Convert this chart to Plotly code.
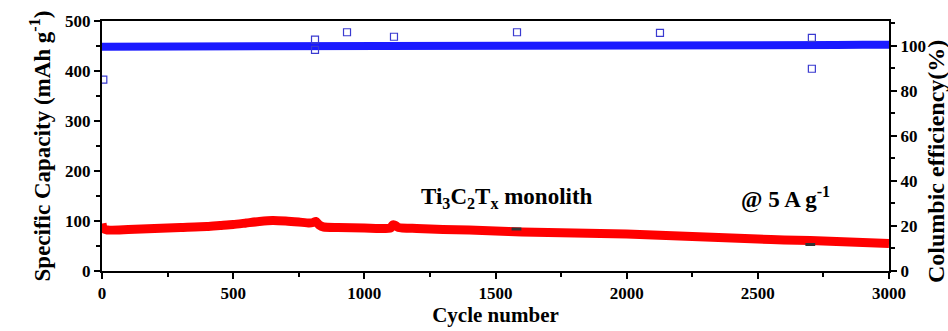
import plotly.graph_objects as go

# Specific capacity (mAh g-1) vs cycle number
cap_cycles = [0, 5, 20, 100, 200, 300, 400, 450, 500, 550, 600, 650, 700, 750, 790, 805, 815,
              828, 845, 900, 1000, 1100, 1108, 1115, 1130, 1200, 1300, 1400, 1500, 1600, 1700,
              1800, 1900, 2000, 2100, 2200, 2300, 2400, 2500, 2600, 2700, 2800, 2900, 3000]
capacity = [95, 85, 82, 83, 85, 87, 89, 91, 93, 96, 99, 101, 100, 98, 96, 97, 99,
            92, 88, 87, 86, 86, 92, 92, 87, 85, 83, 82, 80, 78, 77,
            76, 75, 74, 72, 70, 68, 66, 64, 62, 61, 59, 57, 55]

# Occasional off-trend capacity readings
cap_odd_cycles = [1580, 2700]
cap_odd = [84, 53]

# Coulombic efficiency (%) vs cycle number
ce_cycles = [0, 100, 200, 300, 400, 500, 600, 700, 800, 900, 1000, 1100, 1200, 1300, 1400,
             1500, 1600, 1700, 1800, 1900, 2000, 2100, 2200, 2300, 2400, 2500, 2600, 2700,
             2800, 2900, 3000]
ce = [99.6, 99.6, 99.7, 99.6, 99.7, 99.5, 99.6, 99.8, 99.9, 100.0, 100.0, 100.1, 100.0, 100.1,
      100.1, 100.1, 100.2, 100.2, 100.2, 100.1, 100.2, 100.2, 100.1, 100.2, 100.2, 100.2,
      100.3, 100.3, 100.3, 100.4, 100.4]

# Scattered efficiency outliers
ce_odd_cycles = [5, 812, 812, 934, 1113, 1582, 2127, 2706, 2706]
ce_odd = [85, 102.7, 98.2, 106, 104, 106, 105.7, 89.8, 103.5]

FONT = "Liberation Serif"

fig = go.Figure()

fig.add_trace(go.Scatter(
    x=ce_cycles, y=ce, yaxis="y2", mode="lines",
    line=dict(color="#1a1aff", width=8), showlegend=False))
fig.add_trace(go.Scatter(
    x=ce_odd_cycles, y=ce_odd, yaxis="y2", mode="markers",
    marker=dict(symbol="square-open", size=7, color="#3a3ad0", line=dict(width=1.2)),
    showlegend=False))

fig.add_trace(go.Scatter(
    x=cap_cycles, y=capacity, mode="lines",
    line=dict(color="#ff0000", width=9, shape="spline", smoothing=0.6), showlegend=False))
fig.add_trace(go.Scatter(
    x=cap_odd_cycles, y=cap_odd, mode="markers",
    marker=dict(symbol="line-ew", size=7, color="#333333", line=dict(width=3, color="#333333")),
    showlegend=False))

axis_font = dict(family=FONT, size=17, color="black", weight="bold")
title_font = dict(family=FONT, size=23, color="black", weight="bold")

fig.update_layout(
    width=948, height=331,
    margin=dict(l=102, r=59, t=21, b=60),
    paper_bgcolor="white", plot_bgcolor="white",
    font=dict(family=FONT, color="black"),
    xaxis=dict(
        range=[0, 3000], tickvals=[0, 500, 1000, 1500, 2000, 2500, 3000],
        ticks="outside", ticklen=6, tickwidth=2, tickcolor="black",
        minor=dict(dtick=250, ticks="outside", ticklen=4, tickwidth=2, tickcolor="black"),
        showline=True, linewidth=2, linecolor="black", mirror=True,
        showgrid=False, zeroline=False, automargin=False,
        tickfont=axis_font,
        title=dict(text="Cycle number", font=dict(family=FONT, size=21, color="black", weight="bold"),
                   standoff=4),
    ),
    yaxis=dict(
        range=[0, 500], dtick=100,
        ticks="outside", ticklen=6, tickwidth=2, tickcolor="black",
        minor=dict(dtick=50, ticks="outside", ticklen=4, tickwidth=2, tickcolor="black"),
        showline=True, linewidth=2, linecolor="black", mirror=True,
        showgrid=False, zeroline=False, automargin=False,
        tickfont=axis_font,
        title=dict(text="Specific Capacity (mAh g<sup>-1</sup>)", font=title_font, standoff=8),
    ),
    yaxis2=dict(
        range=[0, 111], tickvals=[0, 20, 40, 60, 80, 100], overlaying="y", side="right",
        ticks="outside", ticklen=6, tickwidth=2, tickcolor="black",
        minor=dict(dtick=10, ticks="outside", ticklen=4, tickwidth=2, tickcolor="black"),
        showline=True, linewidth=2, linecolor="black",
        showgrid=False, zeroline=False, automargin=False,
        tickfont=axis_font,
    ),
    annotations=[
        dict(x=1544, y=146, xref="x", yref="y", xanchor="center", yanchor="middle",
             text="Ti<sub>3</sub>C<sub>2</sub>T<sub>x</sub> monolith", showarrow=False,
             font=dict(family=FONT, size=23, color="black", weight="bold")),
        dict(x=2607, y=146, xref="x", yref="y", xanchor="center", yanchor="middle",
             text="@ 5 A g<sup>-1</sup>", showarrow=False,
             font=dict(family=FONT, size=23, color="black", weight="bold")),
        # right-hand axis title
        dict(x=1.0597, y=0.44, xref="paper", yref="paper", xanchor="center", yanchor="middle",
             text="Columbic efficiency(%)", textangle=-90, showarrow=False,
             font=dict(family=FONT, size=24, color="black", weight="bold")),
    ],
)

fig.write_html("out.html")
